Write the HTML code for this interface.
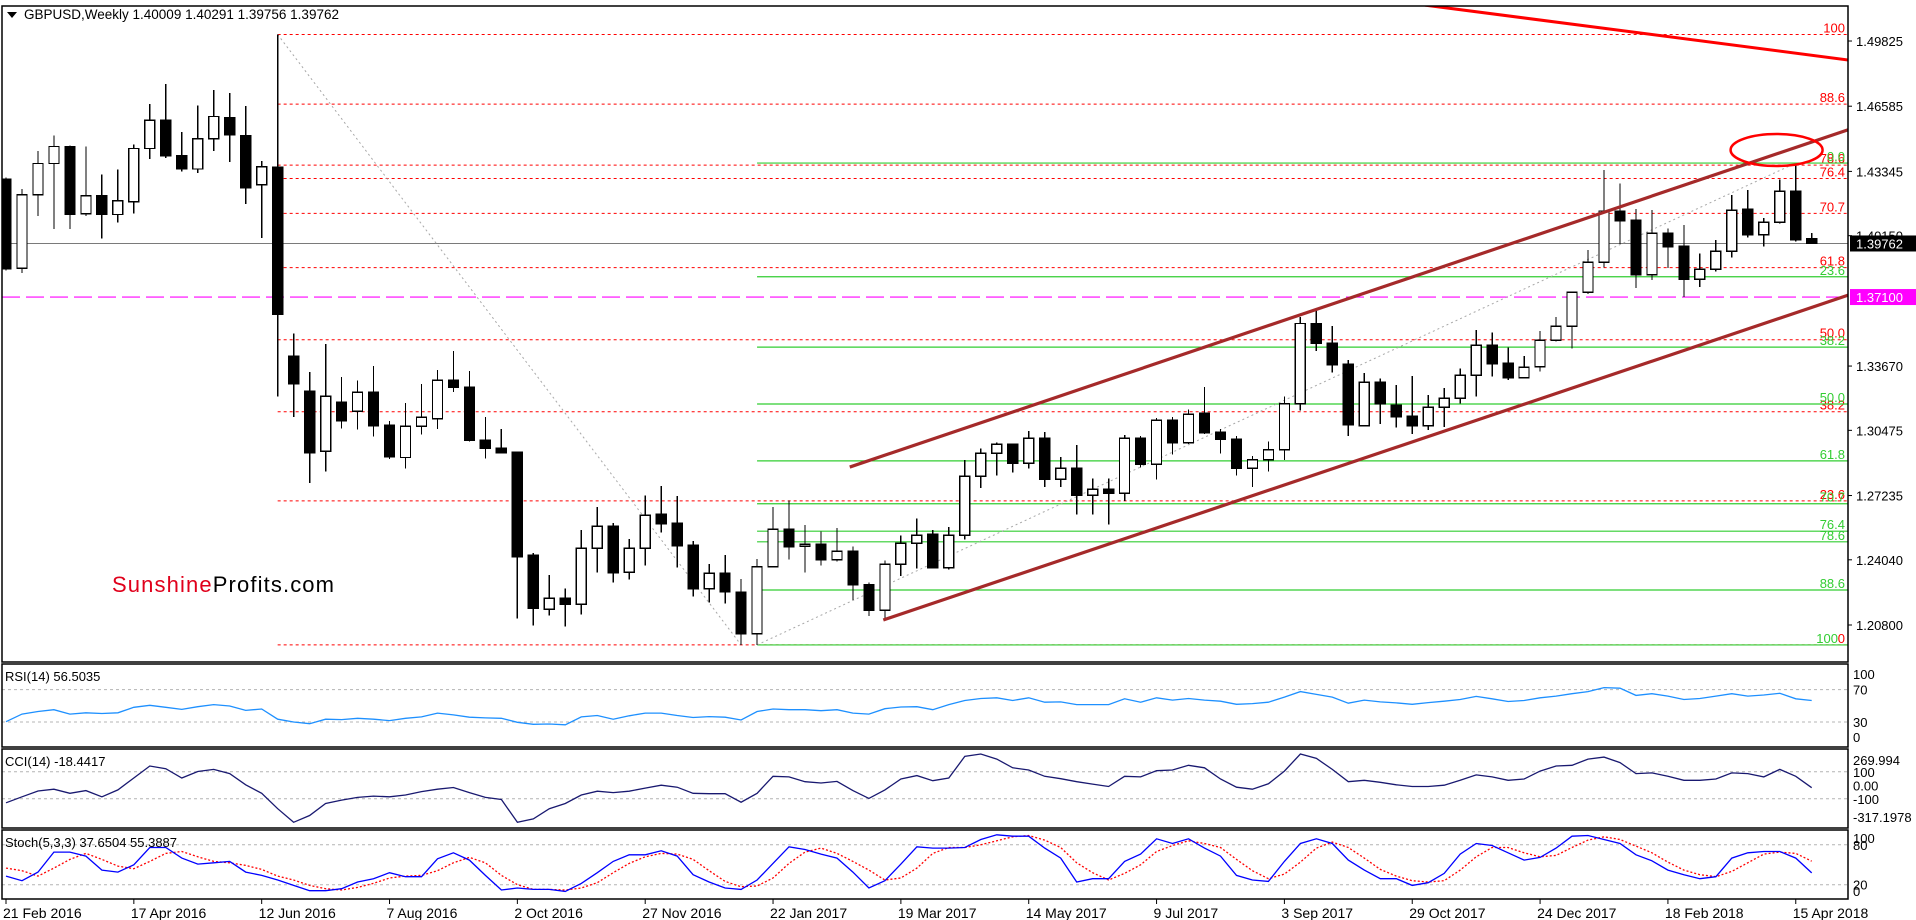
<!DOCTYPE html>
<html><head><meta charset="utf-8"><style>
html,body{margin:0;padding:0;background:#fff;}
svg{display:block;font-family:"Liberation Sans",sans-serif;}
</style></head><body>
<svg id="chart" xmlns="http://www.w3.org/2000/svg" width="1916" height="920" viewBox="0 0 1916 920">
<defs><clipPath id="mainClip"><rect x="2" y="6" width="1846" height="656"/></clipPath>
<clipPath id="subClip"><rect x="2" y="664" width="1846" height="235"/></clipPath></defs>
<rect x="0" y="0" width="1916" height="920" fill="#fff"/>
<g id="mainG" clip-path="url(#mainClip)"></g>
<g id="subG" clip-path="url(#subClip)"></g>
<g id="axG"></g>
<polygon points="7,12 17,12 12,18" fill="#000"/>
<text x="24" y="19" font-size="13.5" fill="#000">GBPUSD,Weekly  1.40009 1.40291 1.39756 1.39762</text>
<text x="112" y="592" font-size="22" textLength="222"><tspan fill="#e0001b">Sunshine</tspan><tspan fill="#000">Profits.com</tspan></text>
<text x="5" y="681" font-size="13">RSI(14) 56.5035</text>
<text x="5" y="766" font-size="13">CCI(14) -18.4417</text>
<text x="5" y="847" font-size="13">Stoch(5,3,3) 37.6504 55.3887</text>
</svg>
<script>
const opens=[1.4295,1.3853,1.4218,1.4374,1.4458,1.4124,1.4213,1.4120,1.4184,1.4448,
1.4588,1.4413,1.4346,1.4497,1.4602,1.4513,1.4268,1.4355,1.3417,1.3243,
1.2943,1.3187,1.3142,1.3237,1.3073,1.2913,1.3068,1.3105,1.3296,1.3261,
1.2999,1.2960,1.2938,1.2426,1.2158,1.2213,1.2183,1.2461,1.2571,1.2342,
1.2461,1.2630,1.2587,1.2476,1.2260,1.2337,1.2243,1.2037,1.2370,1.2556,
1.2471,1.2481,1.2405,1.2446,1.2280,1.2153,1.2382,1.2486,1.2531,1.2365,
1.2526,1.2819,1.2933,1.2978,1.2884,1.3008,1.2804,1.2859,1.2725,1.2754,
1.2735,1.3008,1.2879,1.3097,1.2986,1.3134,1.3039,1.3003,1.2859,1.2902,
1.2951,1.3180,1.3579,1.3480,1.3377,1.3071,1.3286,1.3173,1.3117,1.3071,
1.3162,1.3207,1.3321,1.3470,1.3381,1.3309,1.3364,1.3495,1.3565,1.3734,
1.3883,1.4138,1.4091,1.3821,1.4027,1.3962,1.3798,1.3848,1.3937,1.4146,
1.4020,1.4081,1.4236,1.4001];
const highs=[1.4304,1.4247,1.4436,1.4514,1.4463,1.4458,1.4319,1.4343,1.4467,1.4669,
1.4768,1.4530,1.4662,1.4738,1.4724,1.4659,1.4386,1.5015,1.3529,1.3337,
1.3477,1.3313,1.3296,1.3367,1.3094,1.3183,1.3279,1.3347,1.3442,1.3342,
1.3114,1.3054,1.2943,1.2438,1.2329,1.2262,1.2551,1.2666,1.2587,1.2507,
1.2723,1.2771,1.2721,1.2497,1.2382,1.2428,1.2309,1.2408,1.2666,1.2700,
1.2577,1.2544,1.2561,1.2471,1.2292,1.2400,1.2526,1.2610,1.2551,1.2567,
1.2899,1.2958,1.2986,1.2983,1.3044,1.3039,1.2915,1.2975,1.2809,1.2809,
1.3024,1.3019,1.3109,1.3115,1.3152,1.3263,1.3053,1.3019,1.2920,1.2991,
1.3215,1.3612,1.3646,1.3566,1.3397,1.3332,1.3306,1.3273,1.3318,1.3223,
1.3258,1.3356,1.3546,1.3535,1.3458,1.3417,1.3541,1.3611,1.3734,1.3944,
1.4341,1.4275,1.4148,1.4143,1.4050,1.4068,1.3927,1.3993,1.4217,1.4242,
1.4103,1.4295,1.4371,1.4029];
const lows=[1.3841,1.3829,1.4112,1.4048,1.4048,1.4112,1.4000,1.4081,1.4124,1.4395,
1.4402,1.4334,1.4326,1.4437,1.4381,1.4172,1.4004,1.3215,1.3115,1.2787,
1.2842,1.3056,1.3051,1.3016,1.2904,1.2857,1.3026,1.3053,1.3237,1.2991,
1.2908,1.2933,1.2113,1.2077,1.2128,1.2072,1.2131,1.2342,1.2290,1.2305,
1.2375,1.2539,1.2365,1.2221,1.2191,1.2188,1.1981,1.1981,1.2365,1.2405,
1.2340,1.2375,1.2395,1.2204,1.2125,1.2108,1.2324,1.2362,1.2360,1.2357,
1.2506,1.2762,1.2822,1.2837,1.2859,1.2767,1.2765,1.2630,1.2630,1.2580,
1.2696,1.2862,1.2804,1.2928,1.2980,1.3029,1.2933,1.2822,1.2767,1.2842,
1.2900,1.3145,1.3442,1.3334,1.3019,1.3066,1.3079,1.3061,1.3029,1.3049,
1.3063,1.3182,1.3215,1.3314,1.3298,1.3304,1.3339,1.3490,1.3455,1.3724,
1.3856,1.3974,1.3756,1.3795,1.3854,1.3710,1.3761,1.3836,1.3906,1.4005,
1.3960,1.4076,1.3985,1.3976];
const closes=[1.3849,1.4218,1.4374,1.4458,1.4120,1.4213,1.4120,1.4189,1.4448,1.4588,
1.4411,1.4346,1.4497,1.4607,1.4516,1.4252,1.4357,1.3625,1.3279,1.2936,
1.3217,1.3095,1.3237,1.3071,1.2916,1.3068,1.3112,1.3296,1.3261,1.2998,
1.2958,1.2936,1.2419,1.2163,1.2213,1.2183,1.2461,1.2571,1.2340,1.2461,
1.2625,1.2583,1.2474,1.2260,1.2337,1.2246,1.2037,1.2370,1.2556,1.2469,
1.2481,1.2405,1.2446,1.2280,1.2153,1.2382,1.2486,1.2526,1.2365,1.2526,
1.2819,1.2933,1.2978,1.2884,1.3008,1.2804,1.2859,1.2725,1.2754,1.2735,
1.3008,1.2879,1.3097,1.2986,1.3127,1.3036,1.3003,1.2859,1.2902,1.2951,
1.3180,1.3579,1.3480,1.3372,1.3074,1.3286,1.3178,1.3115,1.3071,1.3162,
1.3207,1.3321,1.3470,1.3379,1.3309,1.3361,1.3495,1.3565,1.3734,1.3883,
1.4138,1.4089,1.3821,1.4027,1.3960,1.3798,1.3848,1.3937,1.4141,1.4020,
1.4081,1.4236,1.3995,1.3976];
const rsiValues=[30.4,39.7,43,45.2,39.7,41.4,40.5,41.4,48.1,50.6,
48.1,45.6,48.9,51.5,49.8,44.3,46,33.4,30,27.9,
33.4,33,34.6,33.4,31.7,34.6,36.3,41,38.8,35.9,
35,34.6,29.6,27.1,27.5,26.6,36.3,38,33.4,37.6,
41,41,38,35.5,36.7,35.9,32.5,43,46,45.2,
45.2,43.9,45.2,41,39.7,46.4,48.5,48.9,45.2,51.5,
56.5,59,59.9,56.5,59.9,54.4,54.8,51.5,51.5,51.5,
58.6,54.4,59.9,57,59,57,55.7,51.9,52.7,54.4,
60.7,67.5,64.1,60.7,53.2,57,54.8,53.6,51.9,54,
55.7,57.8,61.6,58.6,55.3,56.5,59.9,62,64.9,67.5,
72.5,71.7,62.8,64.9,62,57.8,59,62,64.9,62,
63.3,65.4,58.6,56.5];
const cciValues=[-130,-85,-42,-29,-59,-39,-85,-34,54,143,
123,54,102,118,87,4,-59,-173,-274,-224,
-135,-110,-90,-80,-85,-72,-47,-29,-16,-54,
-90,-105,-274,-249,-173,-135,-72,-44,-54,-44,
-21,1,-14,-59,-62,-62,-125,-59,67,62,
27,17,29,-39,-97,-34,47,72,34,54,
214,232,194,130,113,67,49,27,9,-9,
67,62,108,113,148,130,47,-14,-29,11,
105,232,199,118,27,37,22,4,-9,-9,
1,37,77,62,37,47,105,143,148,194,
209,168,87,92,67,37,37,47,92,87,
62,118,67,-18];
const stochK=[33,26,39,69,69,63,42,39,50,76,
76,60,51,53,55,39,34,27,19,11,
11,14,24,29,38,32,32,59,68,57,
34,12,15,13,13,10,22,38,55,65,
65,71,63,35,24,15,13,27,52,77,
73,66,60,39,15,26,51,77,75,75,
76,88,95,93,93,75,60,24,29,29,
55,66,89,82,89,75,63,34,27,25,
55,82,89,82,57,42,29,29,19,23,
37,66,82,79,68,57,61,75,93,94,
88,82,65,56,42,35,29,32,60,68,
70,70,60,37.7];
const stochD=[45,41,33,45,58,67,58,48,44,55,
67,70,62,55,53,49,43,33,27,19,
14,12,16,22,30,33,34,41,53,61,
53,34,20,13,13,12,15,23,38,52,
62,67,66,58,41,25,17,18,30,52,
69,75,67,55,42,27,30,45,67,76,
76,80,86,92,94,87,76,53,38,27,
37,50,70,79,86,82,76,58,41,29,
36,54,75,84,76,60,43,33,26,24,
26,42,62,76,76,68,62,64,76,87,
92,88,78,68,54,42,35,32,40,53,
66,69,67,55.4];
const priceTicks=[1.49825,1.46585,1.43345,1.40150,1.33670,1.30475,1.27235,1.24040,1.20800];
const dateLabels=['21 Feb 2016','17 Apr 2016','12 Jun 2016','7 Aug 2016','2 Oct 2016','27 Nov 2016','22 Jan 2017','19 Mar 2017','14 May 2017','9 Jul 2017','3 Sep 2017','29 Oct 2017','24 Dec 2017','18 Feb 2018','15 Apr 2018'];
const dateIndex=[0,8,16,24,32,40,48,56,64,72,80,88,96,104,112];
const fibRatios=[0,23.6,38.2,50.0,61.8,70.7,76.4,78.6,88.6,100];
const brexitHigh=1.5015, brexitLow=1.1981, rallyHigh=1.4376, rallyLow=1.1981;
const lastPrice=1.39762, supportLevel=1.37100;
const channelUpper=[[52.8,1.2865],[115.3,1.4542]];
const channelLower=[[54.9,1.2105],[115.3,1.3720]];
const redTrend=[[88.8,1.5161],[115.3,1.4888]];
const ellipseCenter=[110.8,1.4441];
const rsiTicks=[100,70,30,0], cciTicks=[269.994,100,0,-100,-317.1978], stochTicks=[100,80,20,0];
const cciTickText=['269.994','100','0.00','-100','-317.1978'];

const NS='http://www.w3.org/2000/svg';
const mainG=document.getElementById('mainG'), subG=document.getElementById('subG'), axG=document.getElementById('axG');
function mk(tag,attrs,parent){const e=document.createElementNS(NS,tag);for(const k in attrs)e.setAttribute(k,attrs[k]);parent.appendChild(e);return e;}
const xOf=i=>6+15.98*i;
const yP=p=>625-(p-1.208)*2012;
const yR=v=>746.3-v*0.81;
const yC=v=>785.3-v*0.135;
const yS=v=>898-v*0.665;

// horizontal reference lines
let e;
e=mk('line',{x1:2,x2:1848,y1:yP(lastPrice),y2:yP(lastPrice),stroke:'#7a7a7a','stroke-width':1},mainG);


e=mk('line',{x1:2,x2:1848,y1:yP(supportLevel),y2:yP(supportLevel),stroke:'#ff00ff','stroke-width':1.2,'stroke-dasharray':'18 6'},mainG);



// red fib (brexit)
fibRatios.forEach(r=>{
  const p=brexitLow+(brexitHigh-brexitLow)*r/100;const y=yP(p);
  const l=mk('line',{x1:xOf(17),x2:1848,y1:y,y2:y,stroke:'#ff0000','stroke-width':1,'stroke-dasharray':'3 3'},mainG);
  
  
  const t=mk('text',{x:1845,y:y-2,'text-anchor':'end','font-size':13,fill:'#ff0000'},mainG);
  t.textContent=r===0?'0':(r===100?'100':r.toFixed(1));
  
  
});
// green fib (rally)
fibRatios.forEach(r=>{
  const p=rallyHigh-(rallyHigh-rallyLow)*r/100;const y=yP(p);
  const l=mk('line',{x1:xOf(47),x2:1848,y1:y,y2:y,stroke:'#32cd32','stroke-width':1.2},mainG);
  
  
  const t=mk('text',{x:r===100?1838:1845,y:y-2,'text-anchor':'end','font-size':13,fill:'#32cd32'},mainG);
  t.textContent=r===100?'100':r.toFixed(1);
  
  
});
// dotted diagonals
e=mk('line',{x1:xOf(17),y1:yP(brexitHigh),x2:xOf(46),y2:yP(brexitLow),stroke:'#a8a8a8','stroke-width':1,'stroke-dasharray':'2 3'},mainG);


e=mk('line',{x1:xOf(47),y1:yP(rallyLow),x2:xOf(112),y2:yP(rallyHigh),stroke:'#a8a8a8','stroke-width':1,'stroke-dasharray':'2 3'},mainG);



// candles
for(let i=0;i<opens.length;i++){
  const x=xOf(i), up=closes[i]>=opens[i];
  const g=mk('g',{'shape-rendering':'crispEdges'},mainG);
  
  
  mk('line',{x1:x,x2:x,y1:yP(highs[i]),y2:yP(lows[i]),stroke:'#000','stroke-width':1.3},g);
  const yt=yP(Math.max(opens[i],closes[i])), yb=yP(Math.min(opens[i],closes[i]));
  mk('rect',{x:x-5,y:yt,width:10,height:Math.max(1.5,yb-yt),fill:up?'#fff':'#000',stroke:'#000','stroke-width':1.3},g);
}

// channel and trend lines
function seg(pts,color,w,name){
  const l=mk('line',{x1:xOf(pts[0][0]),y1:yP(pts[0][1]),x2:xOf(pts[1][0]),y2:yP(pts[1][1]),stroke:color,'stroke-width':w},mainG);
  
  
}
seg(channelUpper,'#a52a2a',3.2,'channel-upper-line');
seg(channelLower,'#a52a2a',3.2,'channel-lower-line');
seg(redTrend,'#ff0000',3,'resistance-trendline');
e=mk('ellipse',{cx:xOf(ellipseCenter[0]),cy:yP(ellipseCenter[1]),rx:46,ry:16,fill:'none',stroke:'#ff0000','stroke-width':2.5},mainG);



// indicator panels
const panels=[[664,747,'rsi-panel'],[749,828,'cci-panel'],[830,899,'stoch-panel']];
function dash(y,name){const l=mk('line',{x1:2,x2:1848,y1:y,y2:y,stroke:'#b4b4b4','stroke-width':1,'stroke-dasharray':'3 3'},subG);
  
  }
dash(yR(70),'rsi-level-70');dash(yR(30),'rsi-level-30');
dash(yC(100),'cci-level-100');dash(yC(-100),'cci-level-minus100');
dash(yS(80),'stoch-level-80');dash(yS(20),'stoch-level-20');
function poly(vals,fy,color,w,da,name){
  const pts=vals.map((v,i)=>xOf(i).toFixed(1)+','+fy(v).toFixed(1)).join(' ');
  const p=mk('polyline',{points:pts,fill:'none',stroke:color,'stroke-width':w},subG);
  if(da)p.setAttribute('stroke-dasharray',da);
  
  
}
poly(rsiValues,yR,'#1e90ff',1.3,null,'rsi-line');
poly(cciValues,yC,'#191970',1.3,null,'cci-line');
poly(stochD,yS,'#ff0000',1.3,'2 2','stoch-signal-line');
poly(stochK,yS,'#0000ff',1.3,null,'stoch-main-line');

// borders
e=mk('rect',{x:2,y:6,width:1846,height:656,fill:'none',stroke:'#000','stroke-width':1.5},axG);


panels.forEach(pn=>{const r=mk('rect',{x:2,y:pn[0],width:1846,height:pn[1]-pn[0],fill:'none',stroke:'#000','stroke-width':1.5},axG);
  
  });

// price axis
priceTicks.forEach(p=>{const y=yP(p);
  const tk=mk('line',{x1:1848,x2:1852,y1:y,y2:y,stroke:'#000'},axG);
  
  
  const t=mk('text',{x:1856,y:y+5,'font-size':13,fill:'#000'},axG);
  t.textContent=p.toFixed(5);
  
  });
function boxLabel(p,bg,name){const y=yP(p);
  const r=mk('rect',{x:1850,y:y-8,width:66,height:16,fill:bg},axG);
  
  
  const t=mk('text',{x:1856,y:y+5,'font-size':13,fill:'#fff'},axG);
  t.textContent=p.toFixed(5);
  
  }
boxLabel(lastPrice,'#000','current-price-label');
boxLabel(supportLevel,'#ff00ff','support-price-label');

// indicator axis labels
function subLabels(ticks,texts,fy,top,bot,m,name){
  ticks.forEach((v,k)=>{let y=fy(v);y=Math.max(top+m,Math.min(bot-m,y));
    const t=mk('text',{x:1853,y:y+5,'font-size':13,fill:'#000'},axG);
    t.textContent=texts?texts[k]:String(v);
    
    });
}
subLabels(rsiTicks,null,yR,664,747,10,'rsi-axis-label');
subLabels(cciTicks,cciTickText,yC,749,828,11,'cci-axis-label');
subLabels(stochTicks,null,yS,830,899,8,'stoch-axis-label');

// date axis
dateLabels.forEach((d,k)=>{const x=xOf(dateIndex[k]);
  const tk=mk('line',{x1:x,x2:x,y1:899,y2:904,stroke:'#000'},axG);
  
  
  const t=mk('text',{x:x-3,y:918,'font-size':14,fill:'#000'},axG);
  t.textContent=d;
  
  });
</script>
</body></html>
